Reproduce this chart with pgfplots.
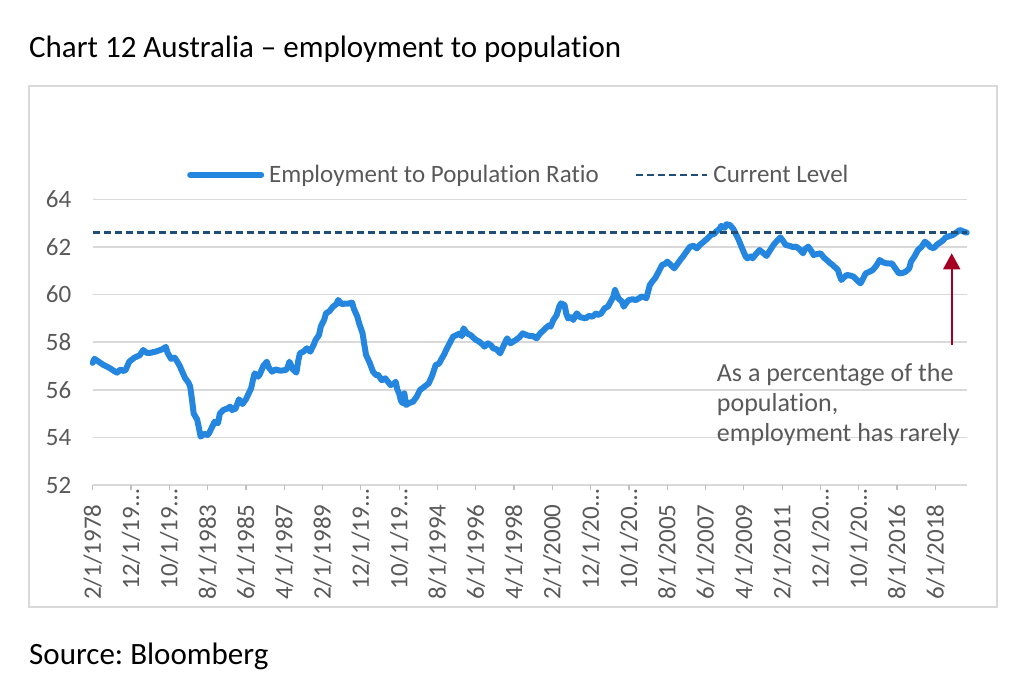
\documentclass[border=0pt]{standalone}
\usepackage{fontspec}
\setmainfont[Ligatures=NoCommon]{Carlito}
\usepackage{pgfplots}
\usepackage{pgfplotstable}
\pgfplotsset{compat=1.18}
\usetikzlibrary{arrows.meta}
\definecolor{lineblue}{RGB}{36,134,222}
\definecolor{navy}{RGB}{31,78,121}
\definecolor{txtgray}{RGB}{89,89,89}
\definecolor{gridgray}{RGB}{217,217,217}
\definecolor{tickgray}{RGB}{191,191,191}
\definecolor{arrowred}{RGB}{165,0,33}

\pgfplotstableread{
m v
0 57.13
1 57.30
3 57.20
6 57.05
8 56.98
10 56.90
12 56.80
14 56.72
16 56.85
18 56.78
19 56.85
21 57.18
24 57.35
27 57.45
29 57.67
31 57.55
33 57.55
36 57.60
38 57.65
40 57.70
42 57.80
43 57.55
45 57.30
47 57.35
48 57.25
50 57.00
51 56.83
53 56.50
55 56.30
56 56.13
57 55.60
58 55.00
60 54.75
61 54.40
62 54.03
64 54.15
66 54.10
67 54.20
69 54.50
70 54.66
72 54.60
73 55.00
75 55.15
77 55.20
79 55.29
80 55.15
82 55.20
84 55.60
86 55.40
88 55.60
91 56.06
92 56.40
93 56.69
95 56.55
96 56.65
98 57.00
100 57.18
101 56.95
103 56.76
105 56.85
106 56.83
108 56.80
111 56.83
112 56.95
113 57.18
115 56.85
117 56.72
118 57.20
119 57.53
121 57.60
123 57.74
125 57.60
127 57.90
128 58.09
130 58.30
131 58.65
133 58.95
134 59.21
136 59.30
138 59.49
140 59.60
141 59.77
143 59.60
145 59.62
147 59.62
149 59.66
150 59.40
152 59.07
153 58.80
155 58.37
156 57.90
157 57.46
159 57.15
161 56.76
163 56.60
164 56.62
166 56.40
168 56.48
170 56.30
171 56.20
173 56.25
174 56.34
175 56.00
176 55.85
177 55.55
178 55.43
179 55.85
180 55.36
182 55.45
184 55.50
186 55.70
188 55.99
190 56.10
193 56.27
195 56.60
197 57.04
199 57.10
200 57.25
202 57.50
203 57.67
205 57.95
207 58.23
209 58.30
211 58.37
212 58.25
213 58.58
215 58.37
217 58.30
218 58.23
220 58.10
222 58.02
224 57.90
225 57.81
227 57.95
229 57.85
230 57.74
232 57.70
234 57.53
236 57.85
238 58.16
240 57.95
241 58.00
243 58.09
245 58.20
247 58.37
249 58.30
251 58.26
253 58.25
255 58.16
257 58.37
259 58.50
260 58.58
262 58.70
263 58.65
264.6 58.93
266.5 59.14
268 59.50
269 59.63
271 59.56
272 59.20
273 59.00
275 59.05
276 58.93
278 59.21
280 59.05
283 59.00
285 59.10
287 59.07
289 59.20
290 59.14
292 59.20
294 59.42
296 59.50
297 59.63
299 59.90
300 60.19
301 60.00
302 59.84
304 59.70
305 59.49
307 59.70
308 59.77
310 59.80
312 59.77
314 59.85
315 59.91
317 59.90
318 59.84
320 60.40
322 60.60
323 60.68
325 60.95
327 61.24
329 61.30
330 61.38
332 61.25
334 61.10
336 61.30
338 61.50
339 61.59
341 61.80
343 62.00
345 62.05
347 61.94
349 62.10
351 62.22
353 62.35
355 62.50
357 62.55
358 62.64
360 62.75
361 62.88
363 62.80
364 62.95
366 62.92
368 62.75
369 62.60
371 62.30
373 61.94
375 61.60
376 61.52
378 61.60
379 61.52
381 61.70
383 61.87
385 61.75
387 61.62
389 61.85
391 62.08
393 62.25
395 62.40
397 62.20
398 62.08
400 62.05
402 62.00
404 62.01
406 61.90
408 61.73
409 61.90
411 62.01
413 61.80
414 61.66
416 61.70
418 61.73
420 61.55
421.6 61.45
423 61.35
425 61.24
427 61.10
428 61.03
429 60.80
430 60.61
432 60.75
433 60.82
435 60.80
437 60.75
439 60.60
441 60.47
442 60.60
444 60.89
446 60.95
448 61.03
450 61.20
452 61.45
454 61.35
456 61.31
458 61.30
459 61.31
461 61.10
463 60.89
465 60.90
467 60.96
469 61.10
470 61.38
472 61.60
474 61.87
476 62.00
478 62.22
480 62.10
481 62.00
483 61.94
485 62.10
486 62.15
488 62.25
490 62.40
492 62.45
494 62.50
496 62.60
498 62.71
500 62.65
502 62.60
}\emp

\begin{document}
\frenchspacing
\begin{tikzpicture}[x=1bp,y=1bp]
\path[use as bounding box] (0,0) rectangle (1024,693);
\draw[gridgray, line width=2bp] (29,86) rectangle (997,607);
\node[anchor=base west, inner sep=0pt, font=\fontsize{31bp}{36bp}\selectfont] at (29,635) {Chart 12 Australia – employment to population};
\node[anchor=base west, inner sep=0pt, font=\fontsize{31bp}{36bp}\selectfont] at (29,28) {Source: Bloomberg};
\begin{axis}[
  at={(92.7bp,208bp)}, anchor=south west,
  scale only axis, width=874bp, height=285.7bp,
  xmin=0, xmax=502, ymin=52, ymax=64,
  axis line style={draw=none},
  ymajorgrids, major grid style={gridgray, line width=1.5bp},
  ytick={52,54,56,58,60,62,64},
  yticklabels={52,54,56,58,60,62,64},
  ytick style={draw=none},
  xtick={0,22,...,484},
  xticklabels={2/1/1978, 12/1/19…\hspace*{-15bp}, 10/1/19…\hspace*{-15bp}, 8/1/1983, 6/1/1985, 4/1/1987, 2/1/1989, 12/1/19…\hspace*{-15bp}, 10/1/19…\hspace*{-15bp}, 8/1/1994, 6/1/1996, 4/1/1998, 2/1/2000, 12/1/20…\hspace*{-15bp}, 10/1/20…\hspace*{-15bp}, 8/1/2005, 6/1/2007, 4/1/2009, 2/1/2011, 12/1/20…\hspace*{-15bp}, 10/1/20…\hspace*{-15bp}, 8/1/2016, 6/1/2018},
  xtick pos=bottom, tick align=outside, major tick length=5bp,
  xtick style={tickgray, line width=1.2bp},
  xticklabel shift=11bp,
  xticklabel style={rotate=90, anchor=east, font=\fontsize{25bp}{30bp}\selectfont, text=txtgray},
  yticklabel style={anchor=east, xshift=-13bp, font=\fontsize{25bp}{30bp}\selectfont, text=txtgray},
  clip=false,
  legend columns=2,
  legend style={draw=none, fill=none, at={(0.1079,1.085)}, anchor=west, inner sep=0pt,
    font=\fontsize{25bp}{30bp}\selectfont, text=txtgray,
    /tikz/every even column/.append style={column sep=34bp}},
  legend image code/.code={\draw[#1] (0bp,0bp) -- (71bp,0bp);},
]
\addplot[lineblue, line width=6bp, line join=round, line cap=round] table[x=m,y=v]{\emp};
\addlegendentry{\hspace{3bp}Employment to Population Ratio}
\addplot[navy, line width=2.5bp, dash pattern=on 7bp off 4bp] coordinates {(0,62.6) (502,62.6)};
\addlegendentry{\hspace{3bp}Current Level}
\end{axis}
\draw[arrowred, line width=1.8bp, -{Triangle[width=17bp,length=16bp]}] (951.7,348) -- (951.7,439.7);
\begin{scope}[every node/.style={anchor=base west, inner sep=0pt, text=txtgray, font=\fontsize{26bp}{30bp}\selectfont}]
\node at (716.7,311.3) {As a percentage of the};
\node at (716.7,281.3) {population,};
\node at (716.7,251.3) {employment has rarely};
\end{scope}
\end{tikzpicture}
\end{document}
